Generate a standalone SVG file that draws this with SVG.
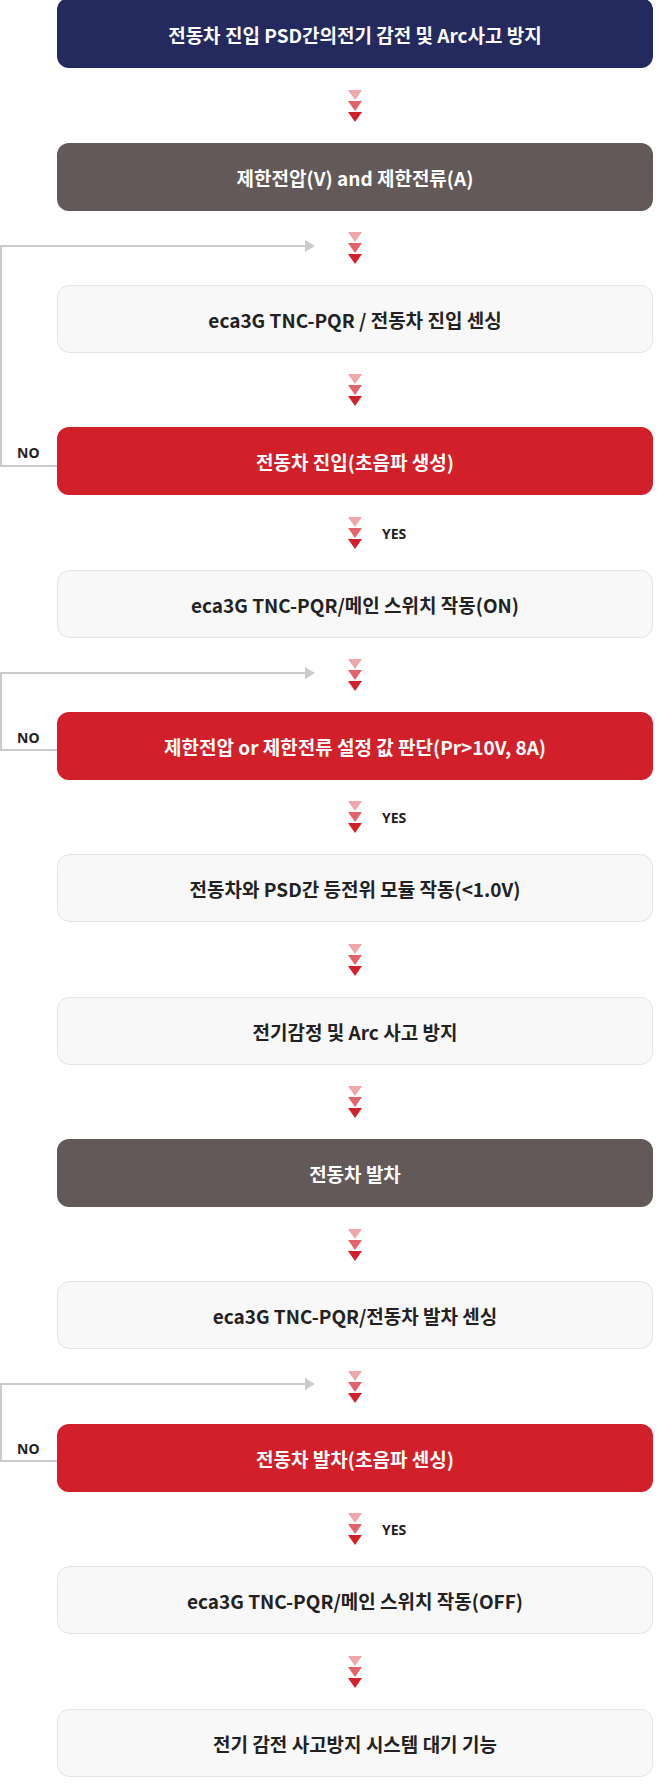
<svg xmlns="http://www.w3.org/2000/svg" width="658" height="1789" viewBox="0 0 658 1789">
<style>
.t{font-family:"Noto Sans CJK KR","Noto Sans",sans-serif;font-weight:700;font-size:19px;text-anchor:middle;dominant-baseline:central}
.w{fill:#fff}.d{fill:#222}
.navy{fill:#242a5e}.brown{fill:#635958}.red{fill:#d12029}.light{fill:#f8f8f8;stroke:#e3e3e3;stroke-width:1}
.a1{fill:#f0a7ab}.a2{fill:#e3636b}.a3{fill:#d12029}
.fb{fill:none;stroke:#cccccc;stroke-width:2}
.lab{font-family:"Noto Sans","Liberation Sans",sans-serif;font-weight:700;font-size:14px;fill:#222;dominant-baseline:central}
</style>
<defs>
<g id="arr"><polygon class="a1" points="-7,-16 7,-16 0,-6"/><polygon class="a2" points="-7,-5 7,-5 0,5"/><polygon class="a3" points="-7,6 7,6 0,16"/></g>
</defs>
<g id="connectors">
<use href="#arr" x="355" y="106"/>
<use href="#arr" x="355" y="248"/>
<use href="#arr" x="355" y="390"/>
<use href="#arr" x="355" y="533"/>
<use href="#arr" x="355" y="675"/>
<use href="#arr" x="355" y="817"/>
<use href="#arr" x="355" y="960"/>
<use href="#arr" x="355" y="1102"/>
<use href="#arr" x="355" y="1245"/>
<use href="#arr" x="355" y="1387"/>
<use href="#arr" x="355" y="1529"/>
<use href="#arr" x="355" y="1672"/>
<path class="fb" d="M57,466 H1 V246 H305"/><polygon fill="#cccccc" points="305,240 315,246 305,252"/>
<path class="fb" d="M57,750 H1 V673 H305"/><polygon fill="#cccccc" points="305,667 315,673 305,679"/>
<path class="fb" d="M57,1461 H1 V1384 H305"/><polygon fill="#cccccc" points="305,1378 315,1384 305,1390"/>
<text class="lab" x="17" y="452">NO</text>
<text class="lab" x="17" y="737">NO</text>
<text class="lab" x="17" y="1448">NO</text>
<text class="lab" x="382" y="533">YES</text>
<text class="lab" x="382" y="817">YES</text>
<text class="lab" x="382" y="1529">YES</text>
</g>
<g id="n1"><rect class="navy" x="57" y="-2" width="596" height="70" rx="12"/><text class="t w" x="355" y="34">전동차 진입 PSD간의전기 감전 및 Arc사고 방지</text></g>
<g id="n2"><rect class="brown" x="57" y="143" width="596" height="68" rx="12"/><text class="t w" x="355" y="177">제한전압(V) and 제한전류(A)</text></g>
<g id="n3"><rect class="light" x="57.5" y="285.5" width="595" height="67" rx="12"/><text class="t d" x="355" y="319">eca3G TNC-PQR / 전동차 진입 센싱</text></g>
<g id="n4"><rect class="red" x="57" y="427" width="596" height="68" rx="12"/><text class="t w" x="355" y="461">전동차 진입(초음파 생성)</text></g>
<g id="n5"><rect class="light" x="57.5" y="570.5" width="595" height="67" rx="12"/><text class="t d" x="355" y="604">eca3G TNC-PQR/메인 스위치 작동(ON)</text></g>
<g id="n6"><rect class="red" x="57" y="712" width="596" height="68" rx="12"/><text class="t w" x="355" y="746">제한전압 or 제한전류 설정 값 판단(Pr&gt;10V, 8A)</text></g>
<g id="n7"><rect class="light" x="57.5" y="854.5" width="595" height="67" rx="12"/><text class="t d" x="355" y="888">전동차와 PSD간 등전위 모듈 작동(&lt;1.0V)</text></g>
<g id="n8"><rect class="light" x="57.5" y="997.5" width="595" height="67" rx="12"/><text class="t d" x="355" y="1031">전기감정 및 Arc 사고 방지</text></g>
<g id="n9"><rect class="brown" x="57" y="1139" width="596" height="68" rx="12"/><text class="t w" x="355" y="1173">전동차 발차</text></g>
<g id="n10"><rect class="light" x="57.5" y="1281.5" width="595" height="67" rx="12"/><text class="t d" x="355" y="1315">eca3G TNC-PQR/전동차 발차 센싱</text></g>
<g id="n11"><rect class="red" x="57" y="1424" width="596" height="68" rx="12"/><text class="t w" x="355" y="1458">전동차 발차(초음파 센싱)</text></g>
<g id="n12"><rect class="light" x="57.5" y="1566.5" width="595" height="67" rx="12"/><text class="t d" x="355" y="1600">eca3G TNC-PQR/메인 스위치 작동(OFF)</text></g>
<g id="n13"><rect class="light" x="57.5" y="1709.5" width="595" height="67" rx="12"/><text class="t d" x="355" y="1743">전기 감전 사고방지 시스템 대기 기능</text></g>
</svg>
